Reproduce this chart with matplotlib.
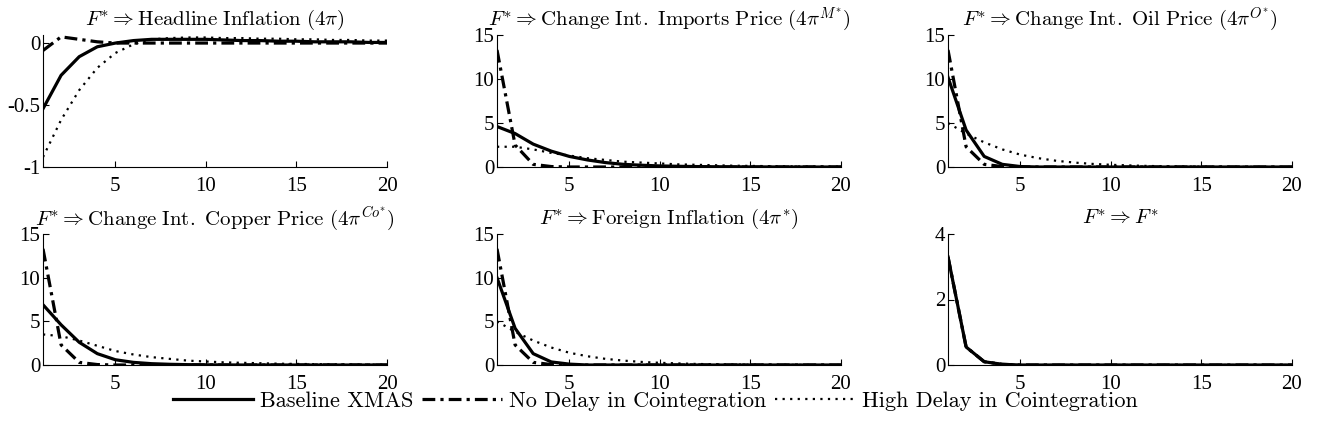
import numpy as np
import matplotlib
matplotlib.use("Agg")
import matplotlib.pyplot as plt

plt.rcParams['font.family'] = 'serif'
plt.rcParams['font.serif'] = ['cmr10']
plt.rcParams['mathtext.fontset'] = 'cm'
plt.rcParams['axes.formatter.use_mathtext'] = True

h = np.arange(1, 21)

# impulse responses (horizon 1..20)
# headline inflation
hl_base = [-0.53, -0.26, -0.11, -0.03, 0.0, 0.02, 0.03, 0.03, 0.03, 0.03,
           0.025, 0.02, 0.02, 0.015, 0.015, 0.01, 0.01, 0.01, 0.005, 0.005]
hl_nodelay = [-0.06, 0.05, 0.03, 0.01, 0.0, 0.0, 0.0, 0.0, 0.0, 0.0,
              0.0, 0.0, 0.0, 0.0, 0.0, 0.0, 0.0, 0.0, 0.0, 0.0]
hl_highdelay = [-0.92, -0.62, -0.38, -0.2, -0.08, -0.01, 0.03, 0.04, 0.045, 0.045,
                0.04, 0.04, 0.035, 0.035, 0.03, 0.03, 0.025, 0.025, 0.02, 0.02]
# imports price
im_base = [4.6, 3.8, 2.6, 1.8, 1.2, 0.8, 0.5, 0.3, 0.2, 0.12,
           0.08, 0.05, 0.03, 0.02, 0.01, 0.01, 0.0, 0.0, 0.0, 0.0]
im_nodelay = [13.3, 2.5, 0.3, 0.05, 0.0, 0.0, 0.0, 0.0, 0.0, 0.0,
              0.0, 0.0, 0.0, 0.0, 0.0, 0.0, 0.0, 0.0, 0.0, 0.0]
im_highdelay = [2.3, 2.3, 2.0, 1.6, 1.3, 1.0, 0.8, 0.6, 0.5, 0.4,
                0.3, 0.25, 0.2, 0.15, 0.12, 0.1, 0.08, 0.06, 0.05, 0.04]
# oil price
oil_base = [10.2, 4.2, 1.2, 0.3, 0.05, 0.0, 0.0, 0.0, 0.0, 0.0,
            0.0, 0.0, 0.0, 0.0, 0.0, 0.0, 0.0, 0.0, 0.0, 0.0]
oil_nodelay = [13.3, 2.3, 0.3, 0.05, 0.0, 0.0, 0.0, 0.0, 0.0, 0.0,
               0.0, 0.0, 0.0, 0.0, 0.0, 0.0, 0.0, 0.0, 0.0, 0.0]
oil_highdelay = [5.0, 3.8, 2.8, 2.0, 1.4, 1.0, 0.7, 0.5, 0.35, 0.25,
                 0.18, 0.12, 0.08, 0.06, 0.04, 0.03, 0.02, 0.01, 0.01, 0.0]
# copper price
cu_base = [6.9, 4.6, 2.6, 1.3, 0.6, 0.3, 0.15, 0.08, 0.04, 0.02,
           0.01, 0.0, 0.0, 0.0, 0.0, 0.0, 0.0, 0.0, 0.0, 0.0]
cu_nodelay = [13.3, 2.3, 0.3, 0.05, 0.0, 0.0, 0.0, 0.0, 0.0, 0.0,
              0.0, 0.0, 0.0, 0.0, 0.0, 0.0, 0.0, 0.0, 0.0, 0.0]
cu_highdelay = [3.5, 3.3, 2.8, 2.2, 1.6, 1.2, 0.9, 0.7, 0.5, 0.4,
                0.3, 0.25, 0.2, 0.15, 0.12, 0.1, 0.08, 0.06, 0.05, 0.04]
# foreign inflation
fi_base = [10.0, 4.2, 1.3, 0.35, 0.1, 0.0, 0.0, 0.0, 0.0, 0.0,
           0.0, 0.0, 0.0, 0.0, 0.0, 0.0, 0.0, 0.0, 0.0, 0.0]
fi_nodelay = [13.3, 2.3, 0.3, 0.05, 0.0, 0.0, 0.0, 0.0, 0.0, 0.0,
              0.0, 0.0, 0.0, 0.0, 0.0, 0.0, 0.0, 0.0, 0.0, 0.0]
fi_highdelay = [5.0, 3.8, 2.8, 2.0, 1.4, 1.0, 0.7, 0.5, 0.35, 0.25,
                0.18, 0.12, 0.08, 0.06, 0.04, 0.03, 0.02, 0.01, 0.01, 0.0]
# F* itself
ff_base = [3.3, 0.55, 0.1, 0.02, 0.0, 0.0, 0.0, 0.0, 0.0, 0.0,
           0.0, 0.0, 0.0, 0.0, 0.0, 0.0, 0.0, 0.0, 0.0, 0.0]
ff_nodelay = ff_base
ff_highdelay = ff_base

titles = [r'$F^{*} \Rightarrow \mathrm{Headline\ Inflation}\ (4\pi)$',
          r'$F^{*} \Rightarrow \mathrm{Change\ Int.\ Imports\ Price}\ (4\pi^{M^{*}})$',
          r'$F^{*} \Rightarrow \mathrm{Change\ Int.\ Oil\ Price}\ (4\pi^{O^{*}})$',
          r'$F^{*} \Rightarrow \mathrm{Change\ Int.\ Copper\ Price}\ (4\pi^{Co^{*}})$',
          r'$F^{*} \Rightarrow \mathrm{Foreign\ Inflation}\ (4\pi^{*})$',
          r'$F^{*} \Rightarrow F^{*}$']
series = [(hl_base, hl_nodelay, hl_highdelay),
          (im_base, im_nodelay, im_highdelay),
          (oil_base, oil_nodelay, oil_highdelay),
          (cu_base, cu_nodelay, cu_highdelay),
          (fi_base, fi_nodelay, fi_highdelay),
          (ff_base, ff_nodelay, ff_highdelay)]
ylims = [(-1, 0.065), (0, 15), (0, 15), (0, 15), (0, 15), (0, 4)]
yticks = [[-1, -0.5, 0], [0, 5, 10, 15], [0, 5, 10, 15],
          [0, 5, 10, 15], [0, 5, 10, 15], [0, 2, 4]]
yticklabels = [['-1', '-0.5', '0'], ['0', '5', '10', '15'], ['0', '5', '10', '15'],
               ['0', '5', '10', '15'], ['0', '5', '10', '15'], ['0', '2', '4']]
xticks = [5, 10, 15, 20]
labels = ['Baseline XMAS', 'No Delay in Cointegration', 'High Delay in Cointegration']

dashdot = (0, (4, 1.6, 1, 1.6))
dotted = (0, (1, 2.4))

fig = plt.figure(figsize=(13.19, 4.42), dpi=100)
W, H = 1319.0, 442.0
lefts = [43, 497, 948]
rows = [(35, 167), (234, 365)]

tick_font = 'Liberation Serif'
for i in range(6):
    r, c = divmod(i, 3)
    top, bot = rows[r]
    ax = fig.add_axes([lefts[c] / W, 1 - bot / H, 344 / W, (bot - top) / H])
    base, nod, hid = series[i]
    ax.plot(h, hid, color='black', lw=1.6, linestyle=dotted)
    ax.plot(h, nod, color='black', lw=2.3, linestyle=dashdot)
    ax.plot(h, base, color='black', lw=2.3)
    ax.set_xlim(1, 20)
    ax.set_ylim(*ylims[i])
    ax.set_xticks(xticks)
    ax.set_xticklabels([str(t) for t in xticks], fontfamily=tick_font, fontsize=15)
    ax.set_yticks(yticks[i])
    ax.set_yticklabels(yticklabels[i], fontfamily=tick_font, fontsize=15)
    ax.tick_params(direction='in', length=4, width=0.8)
    ax.tick_params(axis='x', pad=7)
    ax.tick_params(axis='y', pad=2)
    for s in ['top', 'right']:
        ax.spines[s].set_visible(False)
    for s in ['left', 'bottom']:
        ax.spines[s].set_linewidth(0.8)
    ax.set_title(titles[i], fontsize=15, pad=7)

handles = [plt.Line2D([], [], color='black', lw=2.3),
           plt.Line2D([], [], color='black', lw=2.3, linestyle=dashdot),
           plt.Line2D([], [], color='black', lw=1.6, linestyle=dotted)]
fig.legend(handles, labels, loc='center', bbox_to_anchor=(0.497, 0.093), ncol=3,
           frameon=False, fontsize=16, handlelength=3.6, handletextpad=0.3,
           columnspacing=0.4)

fig.savefig('out.png', dpi=100)
